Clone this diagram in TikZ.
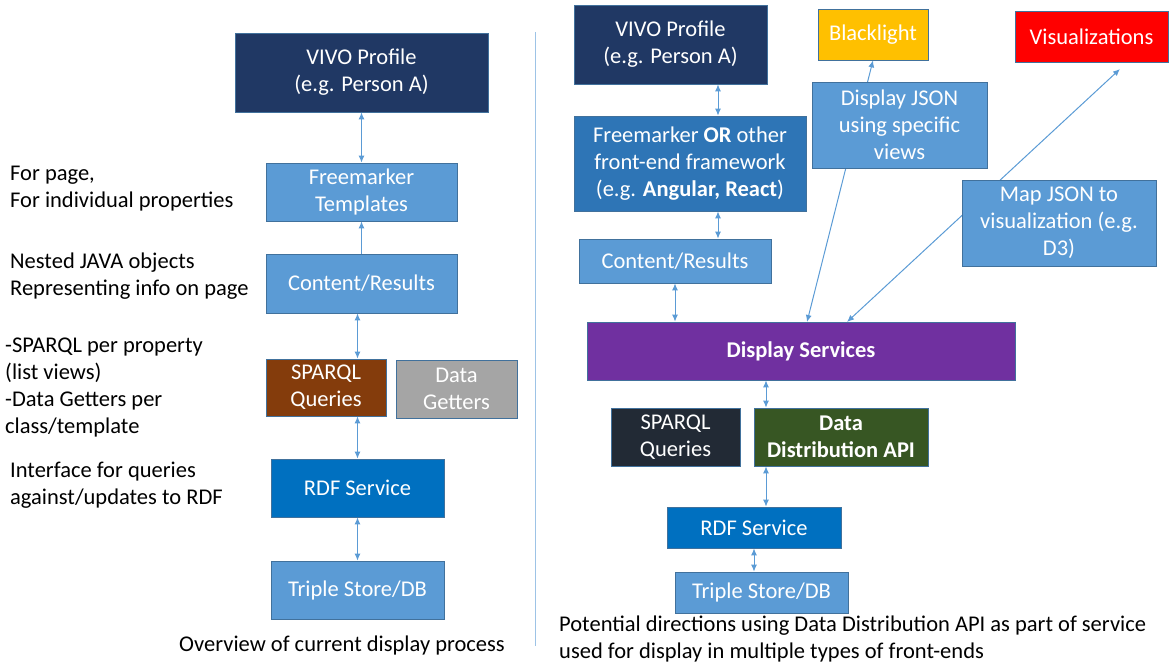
\documentclass[tikz,border=0pt]{standalone}
\usepackage{fontspec}
\setmainfont{Carlito}
\usetikzlibrary{positioning,arrows.meta}
\definecolor{navyBox}{HTML}{203864}
\definecolor{lightBox}{HTML}{5B9BD5}
\definecolor{midBox}{HTML}{2E75B6}
\definecolor{rdfBox}{HTML}{0070C0}
\definecolor{brownBox}{HTML}{843C0C}
\definecolor{grayBox}{HTML}{A5A5A5}
\definecolor{purpleBox}{HTML}{7030A0}
\definecolor{darkBox}{HTML}{222A35}
\definecolor{greenBox}{HTML}{375623}
\definecolor{goldBox}{HTML}{FFC000}
\definecolor{redBox}{HTML}{FF0000}
\definecolor{edgeBlue}{HTML}{41719C}
\definecolor{linkBlue}{HTML}{5B9BD5}
\definecolor{rule}{HTML}{9DC3E6}
\newcommand\boxfont{\fontsize{22.5}{27}\selectfont}

\begin{document}
\begin{tikzpicture}[x=1pt,y=-1pt,
	box/.style={draw=edgeBlue, line width=0.8pt, text=white, align=center,
		inner sep=1pt, font=\boxfont},
	note/.style={anchor=west, align=left, inner sep=0pt, font=\boxfont},
	link/.style={draw=linkBlue, line width=1pt,
		{Latex[length=7pt,width=6pt]}-{Latex[length=7pt,width=6pt]}}]
	\useasboundingbox (0,0) rectangle (1169,664);

	%% left: current display process
	\node[box, fill=navyBox, minimum width=253, minimum height=79] (vivoL) at (361.5,72.5) {VIVO Profile\\(e.g. Person A)};
	\node[box, fill=lightBox, minimum width=191, minimum height=58] (fmL) at (361.5,192) {Freemarker\\Templates};
	\node[box, fill=lightBox, minimum width=191, minimum height=59] (crL) at (361.5,283.5) {Content/Results};
	\node[box, fill=brownBox, minimum width=120, minimum height=57] (spL) at (326,387.5) {SPARQL\\Queries};
	\node[box, fill=grayBox, minimum width=121, minimum height=58] (dgL) at (456.5,389) {Data\\Getters};
	\node[box, fill=rdfBox, minimum width=173, minimum height=58] (rdfL) at (357.5,488) {RDF Service};
	\node[box, fill=lightBox, minimum width=173, minimum height=58] (tsL) at (357.5,590) {Triple Store/DB};

	\draw[link] (vivoL.south) -- (fmL.north);
	\draw[link, {-Latex[length=7pt,width=6pt]}] (crL.north) -- (fmL.south);
	\draw[link] (crL.south -| rdfL) -- (spL.north -| rdfL);
	\draw[link] (spL.south -| rdfL) -- (rdfL.north);
	\draw[link] (rdfL.south) -- (tsL.north);

	\node[note] (pageTxt) at (10,188.5) {For page,\\For individual properties};
	\node[note] (javaTxt) at (10,276.5) {Nested JAVA objects\\Representing info on page};
	\node[note] (sparqlTxt) at (5,387.5) {-SPARQL per property\\(list views)\\-Data Getters per\\class/template};
	\node[note] (ifaceTxt) at (10,485.5) {Interface for queries\\against/updates to RDF};
	\node[font=\boxfont, inner sep=0pt] (capL) at (342,645) {Overview of current display process};

	\draw[rule, line width=1pt] (535,32) -- (535,646);

	%% right: potential directions
	\coordinate (axA) at (718,0);
	\coordinate (axB) at (766,0);
	\node[box, fill=navyBox, minimum width=193, minimum height=79] (vivoR) at (670.5,44.5) {VIVO Profile\\(e.g. Person A)};
	\node[box, fill=midBox, minimum width=232, minimum height=95] (fmR) at (690,163.5) {Freemarker \textbf{OR} other\\front-end framework\\(e.g. \textbf{Angular, React})};
	\node[box, fill=lightBox, minimum width=192, minimum height=44] (crR) at (675,261) {Content/Results};
	\node[box, fill=goldBox, minimum width=110, minimum height=51] (blR) at (873,34.5) {Blacklight};
	\node[box, fill=redBox, minimum width=153, minimum height=51] (visR) at (1091.5,36.5) {Visualizations};
	\node[box, fill=purpleBox, minimum width=428, minimum height=58] (dsR) at (801,351) {\textbf{Display Services}};
	\node[box, fill=darkBox, minimum width=129, minimum height=58] (sqR) at (675.5,437) {SPARQL\\Queries};
	\node[box, fill=greenBox, minimum width=174, minimum height=58] (ddR) at (841,437) {\textbf{Data}\\\textbf{Distribution API}};
	\node[box, fill=rdfBox, minimum width=174, minimum height=41] (rdfR) at (754,527.5) {RDF Service};
	\node[box, fill=lightBox, minimum width=173, minimum height=41] (tsR) at (761.5,592.5) {Triple Store/DB};

	\coordinate (dsA) at (807,322);
	\coordinate (dsB) at (847,322);
	\coordinate (visA) at (1120,69);
	\draw[link] (dsA) -- (blR.south);
	\draw[link] (dsB) -- (visA);

	\node[box, fill=lightBox, minimum width=175, minimum height=86] (djR) at (899.5,125) {Display JSON\\using specific\\views};
	\node[box, fill=lightBox, minimum width=194, minimum height=86] (mjR) at (1059,223) {Map JSON to\\visualization (e.g.\\D3)};

	\draw[link] (vivoR.south -| axA) -- (fmR.north -| axA);
	\draw[link] (fmR.south -| axA) -- (crR.north -| axA);
	\draw[link] (crR.south) -- (crR.south |- dsR.north);
	\draw[link] (dsR.south -| axB) -- (ddR.north -| axB);
	\draw[link] (ddR.south -| axB) -- (rdfR.north -| axB);
	\draw[link] (rdfR.south) -- (rdfR.south |- tsR.north);

	\node[note] (capR) at (559,638.5) {Potential directions using Data Distribution API as part of service\\used for display in multiple types of front-ends};
\end{tikzpicture}
\end{document}
